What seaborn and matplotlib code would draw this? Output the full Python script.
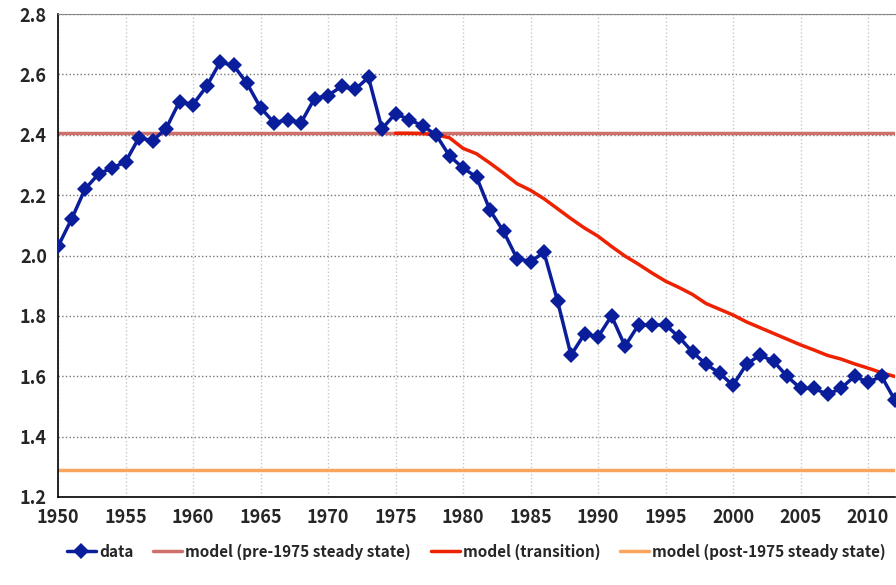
import numpy as np
import pandas as pd
import seaborn as sns
import matplotlib.pyplot as plt

# Values
years = list(range(1950, 2013))
data_vals = [2.03, 2.12, 2.22, 2.27, 2.29, 2.31, 2.39, 2.38, 2.42, 2.51,
             2.50, 2.56, 2.64, 2.63, 2.57, 2.49, 2.44, 2.45, 2.44, 2.52,
             2.53, 2.56, 2.55, 2.59, 2.42, 2.47, 2.45, 2.43, 2.40, 2.33,
             2.29, 2.26, 2.15, 2.08, 1.99, 1.98, 2.01, 1.85, 1.67, 1.74,
             1.73, 1.80, 1.70, 1.77, 1.77, 1.77, 1.73, 1.68, 1.64, 1.61,
             1.57, 1.64, 1.67, 1.65, 1.60, 1.56, 1.56, 1.54, 1.56, 1.60,
             1.58, 1.60, 1.52]
trans_years = list(range(1975, 2013))
trans_vals = [2.405, 2.405, 2.404, 2.40, 2.39, 2.355, 2.337, 2.306, 2.273, 2.238,
              2.216, 2.188, 2.155, 2.122, 2.091, 2.064, 2.030, 1.998, 1.971, 1.942,
              1.915, 1.894, 1.871, 1.841, 1.822, 1.803, 1.780, 1.761, 1.742, 1.723,
              1.704, 1.687, 1.669, 1.657, 1.641, 1.627, 1.612, 1.599]
pre_steady = 2.405
post_steady = 1.288

df = pd.DataFrame({'year': years, 'value': data_vals})
df_trans = pd.DataFrame({'year': trans_years, 'value': trans_vals})
df_pre = pd.DataFrame({'year': years, 'value': [pre_steady] * len(years)})
df_post = pd.DataFrame({'year': years, 'value': [post_steady] * len(years)})

sns.set_style('white')
plt.rcParams['font.family'] = ['Noto Sans CJK JP', 'DejaVu Sans']

fig = plt.figure(figsize=(8.96, 5.85), dpi=100)
ax = fig.add_axes([58 / 896, 88 / 585, 837 / 896, 483 / 585])

sns.lineplot(data=df_pre, x='year', y='value', ax=ax, color='#D0706B', lw=2.5,
             label='model (pre-1975 steady state)', zorder=2)
sns.lineplot(data=df_post, x='year', y='value', ax=ax, color='#F9A55C', lw=2.5,
             label='model (post-1975 steady state)', zorder=2)
sns.lineplot(data=df_trans, x='year', y='value', ax=ax, color='#EE2200', lw=2.5,
             label='model (transition)', zorder=3)
sns.lineplot(data=df, x='year', y='value', ax=ax, color='#0A1E9C', lw=2.5,
             marker='D', markersize=8, markeredgewidth=0, label='data', zorder=4)

ax.set_xlim(1950, 2012)
ax.set_ylim(1.2, 2.8)
ax.set_xticks(range(1950, 2011, 5))
ax.set_yticks(np.arange(1.2, 2.81, 0.2))
ax.set_yticklabels([f'{v:.1f}' for v in np.arange(1.2, 2.81, 0.2)])
ax.set_xlabel('')
ax.set_ylabel('')

ax.grid(axis='x', color='#C8C8C8', linestyle=':', lw=1)
ax.grid(axis='y', color='#777777', linestyle=':', lw=1)
for side in ['left', 'bottom']:
    ax.spines[side].set_color('black')
    ax.spines[side].set_linewidth(1.2)
ax.spines['top'].set_color('#888888')
ax.spines['right'].set_visible(False)

ax.tick_params(axis='both', length=0, labelsize=13, pad=8)
for lbl in ax.get_xticklabels() + ax.get_yticklabels():
    lbl.set_fontweight('bold')

handles, labels = ax.get_legend_handles_labels()
order = [3, 0, 2, 1]
leg = ax.legend([handles[i] for i in order], [labels[i] for i in order],
                loc='upper center', bbox_to_anchor=(0.5, -0.068), ncol=4, frameon=False,
                handlelength=1.9, handletextpad=0.2, columnspacing=1.3,
                prop={'weight': 'bold', 'size': 11})

fig.savefig('out.png', dpi=100)
plt.close()
